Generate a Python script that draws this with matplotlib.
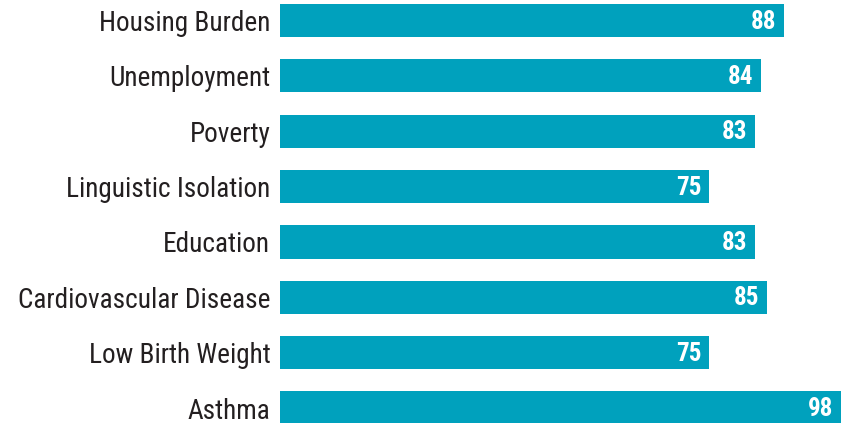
import matplotlib
matplotlib.use("Agg")
import matplotlib.pyplot as plt

categories = ["Housing Burden", "Unemployment", "Poverty", "Linguistic Isolation",
              "Education", "Cardiovascular Disease", "Low Birth Weight", "Asthma"]
values = [88, 84, 83, 75, 83, 85, 75, 98]

plt.rcParams['font.family'] = ['Roboto Condensed', 'Roboto', 'DejaVu Sans']

fig = plt.figure(figsize=(8.43, 4.23), dpi=100)
ax = fig.add_axes([280 / 843, 0, 561 / 843, 1])

bar_color = "#00A1BD"
pos = list(range(len(categories)))
ax.barh(pos, values, height=0.6, color=bar_color)

for p, v in zip(pos, values):
    ax.text(v - 1.3, p + 0.02, str(v), ha="right", va="center", color="white",
            fontsize=18, fontweight="bold")

ax.set_xlim(0, 98)
ax.set_ylim(7.27, -0.37)
ax.set_yticks(pos)
ax.set_yticklabels(categories, fontsize=19.6, color="#231F20")
ax.tick_params(axis="y", length=0, pad=7)
ax.set_xticks([])
for s in ax.spines.values():
    s.set_visible(False)

fig.savefig("out.png", dpi=100)
